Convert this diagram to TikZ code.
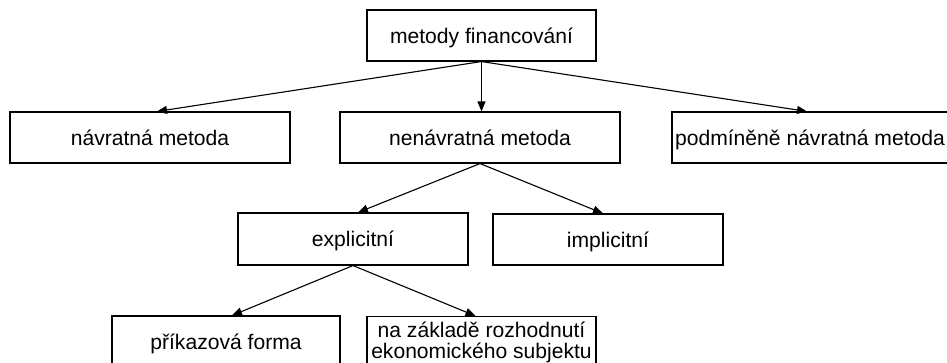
\documentclass[tikz,border=0pt]{standalone}
\usepackage{fontspec}
\setmainfont{Liberation Sans}
\usetikzlibrary{arrows.meta}
\begin{document}
\begin{tikzpicture}[x=1pt,y=-1pt,
  box/.style={draw=black, line width=1.1pt, minimum height=51pt, inner sep=0pt,
    font=\fontsize{21.1}{21.1}\selectfont},
  one/.style={box, text height=15pt, text depth=0pt},
  arr/.style={line width=1.1pt, -{Triangle[length=10pt,width=8pt]}}]
\useasboundingbox (0,0) rectangle (947,362);
\clip (0,0) rectangle (947,362);
\node[one, minimum width=229pt] (top) at (481.5,35.5) {metody financování};
\node[one, minimum width=280pt] (navr) at (150,137.5) {návratná metoda};
\node[one, minimum width=280pt] (nenavr) at (480,137.5) {nenávratná metoda};
\node[one, minimum width=276pt] (podm) at (810,137.5) {podmíněně návratná metoda};
\node[one, minimum width=230pt, minimum height=52pt] (expl) at (353,239) {explicitní};
\node[one, minimum width=230pt] (impl) at (608,239.5) {implicitní};
\node[one, minimum width=228pt] (prik) at (226,341.5) {příkazová forma};
\node[box, minimum width=229pt, align=center] (zakl) at (481.5,342) {na základě rozhodnutí\\ekonomického subjektu};
\draw[arr] (top.south) -- ([xshift=7pt]navr.north);
\draw[arr] (top.south) -- (top.south |- nenavr.north);
\draw[arr] (top.south) -- ([xshift=-3pt]podm.north);
\draw[arr] (nenavr.south) -- ([xshift=5pt]expl.north);
\draw[arr] (nenavr.south) -- ([xshift=-5pt]impl.north);
\draw[arr] (expl.south) -- ([xshift=6pt]prik.north);
\draw[arr] (expl.south) -- ([xshift=-6pt]zakl.north);
\end{tikzpicture}
\end{document}
